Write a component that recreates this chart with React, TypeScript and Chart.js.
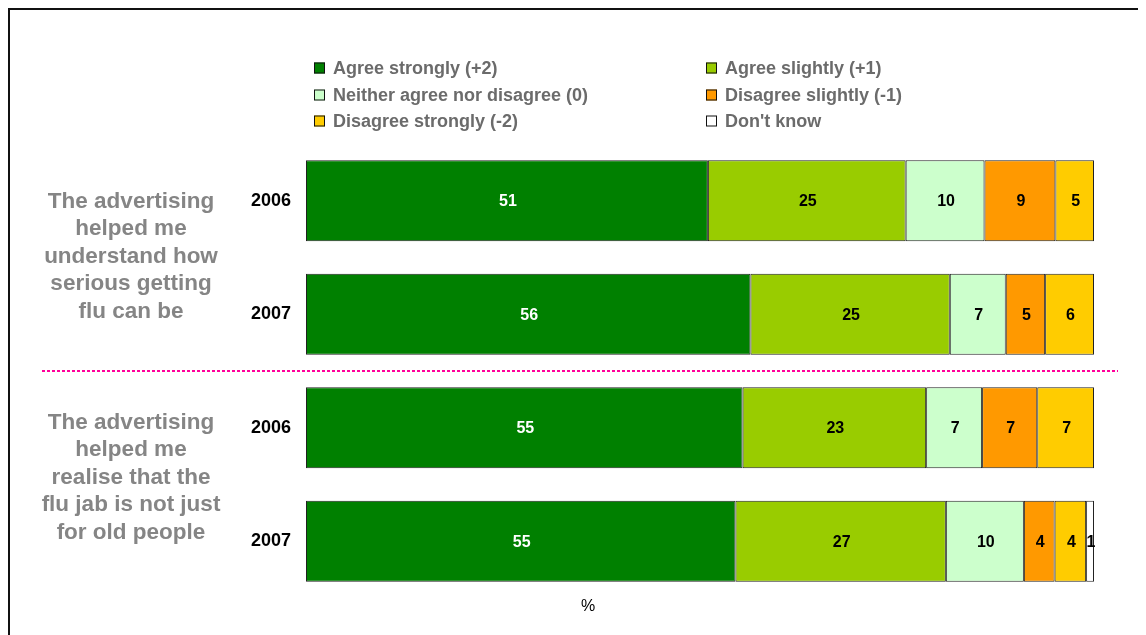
import React, { useEffect, useRef } from "react";
import { Chart, registerables } from "chart.js";

Chart.register(...registerables);

const rowLabels = ["2006", "2007", "2006", "2007"];
const groupLabels = [
  ["The advertising", "helped me", "understand how", "serious getting", "flu can be"],
  ["The advertising", "helped me", "realise that the", "flu jab is not just", "for old people"],
];
const seriesNames = [
  "Agree strongly (+2)",
  "Agree slightly (+1)",
  "Neither agree nor disagree (0)",
  "Disagree slightly (-1)",
  "Disagree strongly (-2)",
  "Don't know",
];
const seriesColors = ["#008000", "#99CC00", "#CCFFCC", "#FF9900", "#FFCC00", "#FFFFFF"];
const labelColors = ["#FFFFFF", "#000000", "#000000", "#000000", "#000000", "#000000"];

const agreeStrongly = [51.0, 56.4, 55.4, 54.5];
const agreeSlightly = [25.1, 25.3, 23.3, 26.7];
const neither = [10.0, 7.1, 7.1, 9.9];
const disagreeSlightly = [9.0, 5.0, 7.0, 3.9];
const disagreeStrongly = [4.9, 6.2, 7.2, 4.0];
const dontKnow = [0, 0, 0, 1.0];

const seriesValues = [agreeStrongly, agreeSlightly, neither, disagreeSlightly, disagreeStrongly, dontKnow];

const FONT = "'Liberation Sans', Arial, sans-serif";

const customPlugin = {
  id: "custom",
  afterDatasetsDraw(chart: any) {
    const ctx = chart.ctx;
    ctx.save();
    // value labels
    ctx.font = `bold 16px ${FONT}`;
    ctx.textAlign = "center";
    ctx.textBaseline = "middle";
    chart.data.datasets.forEach((ds: any, di: number) => {
      const meta = chart.getDatasetMeta(di);
      meta.data.forEach((el: any, i: number) => {
        const v = ds.data[i];
        if (!v) return;
        const x = (el.x + el.base) / 2;
        ctx.fillStyle = labelColors[di];
        ctx.fillText(String(Math.round(v)), x + 1, el.y + 1);
      });
    });

    // legend
    const cols = [304, 696];
    const rows = [58, 85, 111];
    ctx.font = `bold 18px ${FONT}`;
    ctx.textAlign = "left";
    seriesNames.forEach((name, i) => {
      const cx = cols[i % 2];
      const cy = rows[Math.floor(i / 2)];
      ctx.fillStyle = seriesColors[i];
      ctx.fillRect(cx, cy - 5.5, 11, 11);
      ctx.strokeStyle = "#111";
      ctx.lineWidth = 1;
      ctx.strokeRect(cx + 0.5, cy - 5, 10, 10);
      ctx.fillStyle = "#6b6b6b";
      ctx.fillText(name, cx + 19, cy + 1);
    });

    // group labels
    const yScale = chart.scales.y;
    ctx.font = `bold 22.5px ${FONT}`;
    ctx.textAlign = "center";
    ctx.fillStyle = "#858585";
    const offsets = [-1, -7];
    groupLabels.forEach((lines, g) => {
      const yc = (yScale.getPixelForValue(g * 2) + yScale.getPixelForValue(g * 2 + 1)) / 2 + offsets[g];
      const lh = 27.5;
      lines.forEach((ln, k) => {
        ctx.fillText(ln, 121, yc + (k - (lines.length - 1) / 2) * lh);
      });
    });

    // separator
    const sepY = Math.round((yScale.getPixelForValue(1) + yScale.getPixelForValue(2)) / 2);
    ctx.strokeStyle = "#FF0099";
    ctx.lineWidth = 2;
    ctx.setLineDash([3, 2]);
    ctx.beginPath();
    ctx.moveTo(32, sepY);
    ctx.lineTo(1108, sepY);
    ctx.stroke();
    ctx.setLineDash([]);

    // % label
    ctx.font = `16px ${FONT}`;
    ctx.fillStyle = "#000";
    ctx.textAlign = "center";
    ctx.fillText("%", 578, 597);
    ctx.restore();
  },
};

export default function App() {
  const ref = useRef<HTMLCanvasElement>(null);
  useEffect(() => {
    document.body.style.overflow = "hidden";
    if (!ref.current) return;
    const chart = new Chart(ref.current, {
      type: "bar",
      data: {
        labels: rowLabels,
        datasets: seriesValues.map((vals, i) => ({
          label: seriesNames[i],
          data: vals,
          backgroundColor: seriesColors[i],
          borderColor: "#222",
          borderWidth: 1,
          borderSkipped: false,
          barPercentage: 0.713,
          categoryPercentage: 1,
        })),
      },
      options: {
        indexAxis: "y",
        animation: false,
        responsive: false,
        maintainAspectRatio: false,
        layout: { padding: { top: 134, bottom: 29, right: 62, left: 0 } },
        plugins: {
          legend: { display: false },
          tooltip: { enabled: false },
        },
        scales: {
          x: { stacked: true, min: 0, max: 100, display: false },
          y: {
            stacked: true,
            grid: { display: false },
            border: { display: false },
            ticks: {
              color: "#000",
              padding: 7,
              font: { family: FONT, size: 18, weight: "bold" },
            },
            afterFit(scale: any) {
              scale.width = 296;
            },
          },
        },
      },
      plugins: [customPlugin],
    });
    return () => chart.destroy();
  }, []);
  return (
    <div
      style={{
        position: "relative",
        width: 1146,
        height: 640,
        borderTop: "2px solid #111",
        borderLeft: "2px solid #111",
        background: "#fff",
      }}
    >
      <canvas ref={ref} width={1146} height={617} style={{ display: "block" }} />
    </div>
  );
}
